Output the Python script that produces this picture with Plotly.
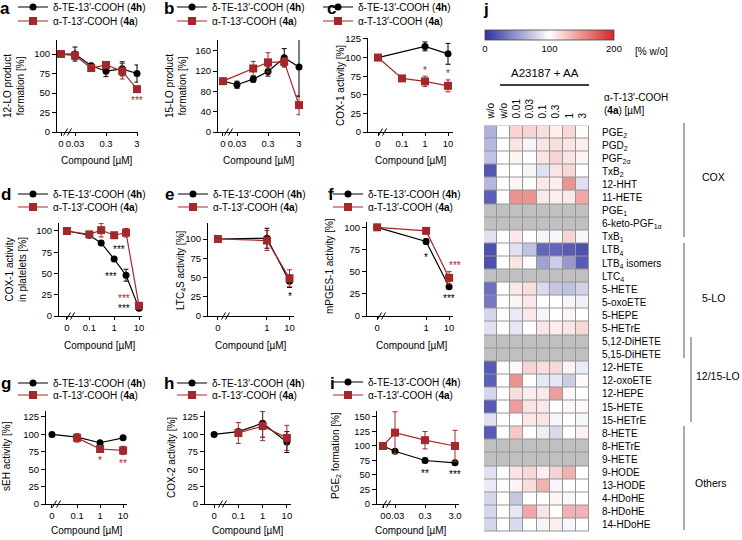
import math
import plotly.graph_objects as go

W, H = 742, 540
FONT = "Liberation Sans, Arial, sans-serif"
BLACK = "#000000"
RED = "#A3282B"

NAME_4H = "δ-TE-13′-COOH (<b>4h</b>)"
NAME_4A = "α-T-13′-COOH (<b>4a</b>)"

# ---------------- data ----------------
# a: 12-LO product formation
a_conc_4h = [0, 0.03, 0.1, 0.3, 1, 3]
a_val_4h = [100, 100, 85, 78, 81, 75]
a_err_4h = [3, 9, 3, 7, 9, 11]
a_conc_4a = [0, 0.03, 0.1, 0.3, 1, 3]
a_val_4a = [100, 98, 82, 86, 78, 55]
a_err_4a = [3, 5, 3, 3, 10, 2]

# b: 15-LO product formation
b_conc_4h = [0, 0.03, 0.1, 0.3, 1, 3]
b_val_4h = [100, 93, 104, 119, 146, 128]
b_err_4h = [3, 7, 6, 9, 18, 58]
b_conc_4a = [0, 0.1, 0.3, 1, 3]
b_val_4a = [100, 125, 137, 138, 53]
b_err_4a = [4, 14, 19, 8, 19]

# c: COX-1 activity
c_conc_4h = [0, 1, 10]
c_val_4h = [100, 115, 105]
c_err_4h = [3, 6, 14]
c_conc_4a = [0, 0.1, 1, 10]
c_val_4a = [100, 72, 68, 62]
c_err_4a = [3, 3, 7, 8]

# d: COX-1 activity in platelets
d_conc_4h = [0, 0.1, 0.3, 1, 3, 10]
d_val_4h = [100, 95, 86, 67, 48, 9]
d_err_4h = [2, 2, 2, 2, 7, 2]
d_conc_4a = [0, 0.1, 0.3, 1, 3, 10]
d_val_4a = [100, 96, 101, 95, 98, 12]
d_err_4a = [2, 2, 8, 2, 5, 3]

# e: LTC4S activity
e_conc_4h = [0, 1, 10]
e_val_4h = [100, 101, 45]
e_err_4h = [2, 13, 8]
e_conc_4a = [0, 1, 10]
e_val_4a = [100, 98, 49]
e_err_4a = [2, 13, 11]

# f: mPGES-1 activity
f_conc_4h = [0, 1, 10]
f_val_4h = [100, 84, 33]
f_err_4h = [2, 3, 2]
f_conc_4a = [0, 1, 10]
f_val_4a = [100, 96, 43]
f_err_4a = [2, 3, 7]

# g: sEH activity
g_conc_4h = [0, 0.1, 1, 10]
g_val_4h = [100, 96, 88, 95]
g_err_4h = [2, 2, 2, 2]
g_conc_4a = [0.1, 1, 10]
g_val_4a = [95, 79, 77]
g_err_4a = [6, 3, 6]

# h: COX-2 activity
h_conc_4h = [0, 0.1, 1, 10]
h_val_4h = [100, 104, 116, 89]
h_err_4h = [2, 3, 20, 15]
h_conc_4a = [0.1, 1, 10]
h_val_4a = [102, 112, 95]
h_err_4a = [15, 21, 18]

# i: PGE2 formation
i_conc_4h = [0, 0.03, 0.3, 3]
i_val_4h = [100, 91, 75, 71]
i_err_4h = [2, 2, 4, 2]
i_conc_4a = [0, 0.03, 0.3, 3]
i_val_4a = [100, 123, 110, 100]
i_err_4a = [3, 36, 15, 27]

# j: heatmap [% w/o]; columns = w/o (unstimulated), then A23187 + AA: w/o, 0.01 ... 3 µM
heat_columns = ["w/o", "w/o", "0.01", "0.03", "0.1", "0.3", "1", "3"]
heat_rows = ["PGE<sub>2</sub>", "PGD<sub>2</sub>", "PGF<sub>2α</sub>", "TxB<sub>2</sub>", "12-HHT",
             "11-HETE", "PGE<sub>1</sub>", "6-keto-PGF<sub>1α</sub>", "TxB<sub>1</sub>",
             "LTB<sub>4</sub>", "LTB<sub>4</sub> isomers", "LTC<sub>4</sub>", "5-HETE", "5-oxoETE",
             "5-HEPE", "5-HETrE", "5,12-DiHETE", "5,15-DiHETE", "12-HETE", "12-oxoETE", "12-HEPE",
             "15-HETE", "15-HETrE", "8-HETE", "8-HETrE", "9-HETE", "9-HODE", "13-HODE",
             "4-HDoHE", "8-HDoHE", "14-HDoHE"]
heat_values = [
    [62, 100, 120, 120, 115, 108, 118, 102],
    [65, 100, 112, 95, 112, 115, 112, 108],
    [70, 100, 105, 100, 112, 120, 112, 105],
    [18, 100, 100, 95, 85, 112, 118, 100],
    [65, 100, 105, 100, 110, 108, 150, 85],
    [22, 100, 150, 150, 110, 108, 110, 140],
    None,
    None,
    [85, 100, 110, 100, 95, 95, 120, 95],
    [15, 100, 85, 70, 25, 25, 20, 15],
    [15, 100, 112, 98, 55, 75, 50, 20],
    None,
    [30, 100, 110, 115, 82, 72, 70, 78],
    [35, 100, 105, 110, 100, 100, 95, 93],
    [80, 100, 90, 110, 95, 100, 105, 100],
    [85, 100, 88, 100, 112, 108, 112, 118],
    None,
    None,
    [20, 100, 103, 120, 115, 118, 105, 90],
    [22, 100, 150, 100, 88, 88, 75, 103],
    [80, 100, 115, 108, 110, 145, 103, 100],
    [20, 100, 145, 112, 110, 100, 103, 103],
    [85, 100, 100, 110, 112, 95, 100, 95],
    [20, 100, 125, 100, 92, 82, 100, 106],
    None,
    None,
    [85, 100, 112, 118, 108, 120, 135, 100],
    [90, 100, 105, 115, 135, 96, 100, 100],
    [80, 100, 72, 100, 100, 105, 97, 100],
    [80, 100, 88, 140, 112, 100, 135, 135],
    [80, 100, 82, 100, 95, 108, 96, 100],
]
heat_groups = ["COX", "5-LO", "12/15-LO", "Others"]

# ---------------- layout geometry (pixels) ----------------
def px(x):
    return x / W


def py(y):
    return 1 - y / H


panels = [
    dict(letter="a", data=(a_conc_4h, a_val_4h, a_err_4h, a_conc_4a, a_val_4a, a_err_4a),
         dom=(57, 138, 40, 132), xr=(-2.104, 0.509), zero=-1.975, ymax=118,
         yt=[0, 25, 50, 75, 100], xt=[0, 0.03, 0.3, 3], xtt=["0", "0.03", "0.3", "3"],
         ytitle="12-LO product<br>formation [%]", ytpos=(14, 86), xtpos=(97, 160),
         leg=(53, 7, 21), lpos=(5, 8), brk=69),
    dict(letter="b", data=(b_conc_4h, b_val_4h, b_err_4h, b_conc_4a, b_val_4a, b_err_4a),
         dom=(218, 300, 40, 132), xr=(-2.136, 0.509), zero=-1.975, ymax=181,
         yt=[0, 40, 80, 120, 160], xt=[0, 0.03, 0.3, 3], xtt=["0", "0.03", "0.3", "3"],
         ytitle="15-LO product<br>formation [%]", ytpos=(176, 86), xtpos=(259, 160),
         leg=(212, 7, 21), lpos=(169, 8), brk=230),
    dict(letter="c", data=(c_conc_4h, c_val_4h, c_err_4h, c_conc_4a, c_val_4a, c_err_4a),
         dom=(368, 453, 38, 132), xr=(-2.478, 1.217), zero=-2.043, ymax=126.3,
         yt=[0, 25, 50, 75, 100, 125], xt=[0, 0.1, 1, 10], xtt=["0", "0.1", "1", "10"],
         ytitle="COX-1 activity [%]", ytpos=(341, 86), xtpos=(411, 160),
         leg=(358, 7, 21), lpos=(331, 8), brk=384),
    dict(letter="d", data=(d_conc_4h, d_val_4h, d_err_4h, d_conc_4a, d_val_4a, d_err_4a),
         dom=(59, 142, 223, 316), xr=(-2.22, 1.12), zero=-1.9, ymax=109.4,
         yt=[0, 25, 50, 75, 100], xt=[0, 0.1, 1, 10], xtt=["0", "0.1", "1", "10"],
         ytitle="COX-1 activity<br>in platelets [%]", ytpos=(16, 270), xtpos=(100, 345),
         leg=(53, 194, 207), lpos=(6, 194), brk=72),
    dict(letter="e", data=(e_conc_4h, e_val_4h, e_err_4h, e_conc_4a, e_val_4a, e_err_4a),
         dom=(208, 294, 223, 316), xr=(-2.62, 1.2), zero=-2.18, ymax=120.8,
         yt=[0, 25, 50, 75, 100], xt=[0, 1, 10], xtt=["0", "1", "10"],
         ytitle="LTC<sub>4</sub>S activity [%]", ytpos=(181, 270), xtpos=(251, 345),
         leg=(213, 194, 207), lpos=(169, 194), brk=227),
    dict(letter="f", data=(f_conc_4h, f_val_4h, f_err_4h, f_conc_4a, f_val_4a, f_err_4a),
         dom=(367, 453, 222, 316), xr=(-2.57, 1.17), zero=-2.13, ymax=106,
         yt=[0, 25, 50, 75, 100], xt=[0, 1, 10], xtt=["0", "1", "10"],
         ytitle="mPGES-1 activity [%]", ytpos=(329, 266), xtpos=(412, 345),
         leg=(368, 194, 207), lpos=(331, 194), brk=383),
    dict(letter="g", data=(g_conc_4h, g_val_4h, g_err_4h, g_conc_4a, g_val_4a, g_err_4a),
         dom=(46, 127, 411, 504), xr=(-2.35, 1.17), zero=-2.09, ymax=133.6,
         yt=[0, 25, 50, 75, 100, 125], xt=[0, 0.1, 1, 10], xtt=["0", "0.1", "1", "10"],
         ytitle="sEH activity [%]", ytpos=(6, 456), xtpos=(87, 530),
         leg=(53, 383, 395), lpos=(6, 383), brk=58),
    dict(letter="h", data=(h_conc_4h, h_val_4h, h_err_4h, h_conc_4a, h_val_4a, h_err_4a),
         dom=(205, 291, 411, 504), xr=(-2.375, 1.17), zero=-2.0, ymax=133.6,
         yt=[0, 25, 50, 75, 100, 125], xt=[0, 0.1, 1, 10], xtt=["0", "0.1", "1", "10"],
         ytitle="COX-2 activity [%]", ytpos=(171, 458), xtpos=(248, 530),
         leg=(212, 383, 395), lpos=(169, 383), brk=224),
    dict(letter="i", data=(i_conc_4h, i_val_4h, i_err_4h, i_conc_4a, i_val_4a, i_err_4a),
         dom=(377, 459, 411, 504), xr=(-2.123, 0.61), zero=-1.923, ymax=160.3,
         yt=[0, 25, 50, 75, 100, 125, 150], xt=[0, 0.03, 0.3, 3], xtt=["0", "0.03", "0.3", "3.0"],
         ytitle="PGE<sub>2</sub> formation [%]", ytpos=(336, 456), xtpos=(411, 530),
         leg=(368, 382, 395), lpos=(332, 383), brk=388),
]

# significance marks: (panel index, concentration, y value, text, colour, x shift px)
stars = [
    (0, 3, 40, "***", RED, 0),
    (2, 1, 83, "*", RED, 0),
    (2, 10, 79, "*", RED, 0),
    (3, 1, 78, "***", BLACK, 5),
    (3, 3, 47, "***", BLACK, -15),
    (3, 10, 21, "***", RED, -15),
    (3, 10, 9, "***", BLACK, -15),
    (4, 10, 25, "*", BLACK, 0),
    (5, 1, 66, "*", BLACK, 0),
    (5, 10, 57, "***", RED, 6),
    (5, 10, 20, "***", BLACK, 0),
    (6, 1, 63, "*", RED, 0),
    (6, 10, 58, "**", RED, 0),
    (8, 0.3, 53, "**", BLACK, 0),
    (8, 3, 50, "***", BLACK, 0),
]


def pos(c, zero):
    return zero if c == 0 else math.log10(c)


def note(text, x, y, size=10, xanchor="center", **kw):
    d = dict(text=text, x=px(x), y=py(y), xref="paper", yref="paper", showarrow=False,
             xanchor=xanchor, yanchor="middle", font=dict(size=size, family=FONT, color=BLACK))
    d.update(kw)
    return d


fig = go.Figure()
annotations = []
shapes = []
layout = dict(
    width=W, height=H,
    margin=dict(l=0, r=0, t=0, b=0, autoexpand=False),
    paper_bgcolor="white", plot_bgcolor="white",
    font=dict(family=FONT, size=10, color=BLACK),
    template="none",
)

for k, p in enumerate(panels):
    n = k + 1
    xa = "x" if n == 1 else f"x{n}"
    ya = "y" if n == 1 else f"y{n}"
    xkey = "xaxis" if n == 1 else f"xaxis{n}"
    ykey = "yaxis" if n == 1 else f"yaxis{n}"
    c4h, v4h, e4h, c4a, v4a, e4a = p["data"]
    lg1 = "legend" if n == 1 else f"legend{2 * n - 1}"
    lg2 = f"legend{2 * n}"
    fig.add_trace(go.Scatter(
        x=[pos(c, p["zero"]) for c in c4h], y=v4h, name=NAME_4H, mode="lines+markers",
        line=dict(color=BLACK, width=1.2), marker=dict(symbol="circle", size=7, color=BLACK),
        error_y=dict(type="data", array=e4h, color=BLACK, thickness=1, width=2.5),
        xaxis=xa, yaxis=ya, legend=lg1, showlegend=True, cliponaxis=False))
    fig.add_trace(go.Scatter(
        x=[pos(c, p["zero"]) for c in c4a], y=v4a, name=NAME_4A, mode="lines+markers",
        line=dict(color=RED, width=1.2), marker=dict(symbol="square", size=8, color=RED),
        error_y=dict(type="data", array=e4a, color=RED, thickness=1, width=2.5),
        xaxis=xa, yaxis=ya, legend=lg2, showlegend=True, cliponaxis=False))

    x0, x1, yt0, yb = p["dom"]
    layout[xkey] = dict(
        domain=[px(x0), px(x1)], range=list(p["xr"]), anchor=ya,
        tickvals=[pos(c, p["zero"]) for c in p["xt"]], ticktext=p["xtt"], tickangle=0,
        ticks="outside", ticklen=3, tickwidth=1, tickcolor=BLACK,
        showline=True, linecolor=BLACK, linewidth=1, showgrid=False, zeroline=False,
        tickfont=dict(size=9.5), fixedrange=True)
    layout[ykey] = dict(
        domain=[py(yb), py(yt0)], range=[0, p["ymax"]], anchor=xa,
        tickvals=p["yt"], ticks="outside", ticklen=4, tickwidth=1, tickcolor=BLACK,
        showline=True, linecolor=BLACK, linewidth=1, showgrid=False, zeroline=False,
        tickfont=dict(size=9.5), fixedrange=True)

    tx, r1, r2 = p["leg"]
    for lg, ry in ((lg1, r1), (lg2, r2)):
        layout[lg] = dict(x=px(tx - 40), y=py(ry), xanchor="left", yanchor="middle",
                          bgcolor="rgba(0,0,0,0)", borderwidth=0,
                          font=dict(size=10, family=FONT, color=BLACK))

    annotations.append(note(f"<b>{p['letter']}</b>", p["lpos"][0], p["lpos"][1], size=17))
    annotations.append(note("Compound [µM]", p["xtpos"][0], p["xtpos"][1]))
    annotations.append(note(p["ytitle"], p["ytpos"][0], p["ytpos"][1], textangle=-90))
    # axis break marks
    bx = p["brk"]
    for dx in (-4, 0):
        shapes.append(dict(type="line", xref="paper", yref="paper",
                           x0=px(bx + dx - 1.5), y0=py(yb + 3.5), x1=px(bx + dx + 2.5), y1=py(yb - 3.5),
                           line=dict(color=BLACK, width=1)))

for (k, c, yv, txt, col, dx) in stars:
    n = k + 1
    p = panels[k]
    annotations.append(dict(text=txt, x=pos(c, p["zero"]), y=yv,
                            xref="x" if n == 1 else f"x{n}", yref="y" if n == 1 else f"y{n}",
                            xanchor="center", yanchor="middle",
                            xshift=dx, showarrow=False, font=dict(size=10, color=col, family=FONT)))

# ---------------- heatmap j ----------------
HX0, HX1, HY0, HY1 = 484, 589, 125.5, 531.5
nrow = len(heat_rows)
ncol = len(heat_columns)
z_main = [row if row is not None else [None] * ncol for row in heat_values]
z_nd = [[1] * ncol if row is None else [None] * ncol for row in heat_values]
colorscale = [[0.0, "rgb(45,50,160)"], [0.5, "rgb(255,255,255)"], [1.0, "rgb(214,38,34)"]]

fig.add_trace(go.Heatmap(
    z=z_main, x=list(range(ncol)), y=list(range(nrow)), xaxis="x10", yaxis="y10",
    zmin=0, zmax=200, colorscale=colorscale, xgap=1, ygap=1, hoverongaps=False,
    colorbar=dict(orientation="h", x=px(549.5), xanchor="center", y=py(30), yanchor="top",
                  len=129, lenmode="pixels", thickness=10, thicknessmode="pixels",
                  xpad=0, ypad=0, tickvals=[0, 100, 200], ticks="", tickfont=dict(size=9.5),
                  outlinewidth=0.8, outlinecolor="#444")))
fig.add_trace(go.Heatmap(
    z=z_nd, x=list(range(ncol)), y=list(range(nrow)), xaxis="x10", yaxis="y10",
    zmin=0, zmax=1, colorscale=[[0, "rgb(192,192,192)"], [1, "rgb(192,192,192)"]],
    xgap=1, ygap=1, showscale=False, hoverongaps=False))

layout["xaxis10"] = dict(domain=[px(HX0), px(HX1)], range=[-0.5, ncol - 0.5], anchor="y10", side="top",
                         tickvals=list(range(ncol)), ticktext=heat_columns, tickangle=-90,
                         ticks="outside", ticklen=4, tickcolor="rgba(0,0,0,0)",
                         showgrid=False, zeroline=False, showline=False,
                         tickfont=dict(size=10), fixedrange=True)
layout["yaxis10"] = dict(domain=[py(HY1), py(HY0)], range=[nrow - 0.5, -0.5], anchor="x10", side="right",
                         tickvals=list(range(nrow)), ticktext=heat_rows,
                         ticks="outside", ticklen=10, tickcolor="rgba(0,0,0,0)",
                         showgrid=False, zeroline=False, showline=False,
                         tickfont=dict(size=10), fixedrange=True)

shapes.append(dict(type="rect", xref="paper", yref="paper", x0=px(HX0), x1=px(HX1),
                   y0=py(HY1), y1=py(HY0), fillcolor="rgb(150,150,150)",
                   line=dict(width=0), layer="below"))
# A23187 + AA bar
shapes.append(dict(type="line", xref="paper", yref="paper", x0=px(500), x1=px(589),
                   y0=py(85), y1=py(85), line=dict(color=BLACK, width=1.6)))
# group brackets
for (gx, gy0, gy1) in ((684, 123, 237), (684, 243, 358), (691, 337, 422), (684, 426, 530)):
    shapes.append(dict(type="line", xref="paper", yref="paper", x0=px(gx), x1=px(gx),
                       y0=py(gy0), y1=py(gy1), line=dict(color="#555", width=1)))

for txt, gx, gy in zip(heat_groups, (700, 700, 694, 693), (177, 298, 376, 483)):
    annotations.append(note(txt, gx, gy, size=10.5, xanchor="left"))

annotations += [
    note("<b>j</b>", 486, 10, size=17),
    note("[% w/o]", 633, 51, xanchor="left"),
    note("A23187 + AA", 545, 73, size=11.5),
    note("α-T-13′-COOH", 602, 98, xanchor="left"),
    note("(<b>4a</b>) [µM]", 602, 110, xanchor="left"),
]

layout["annotations"] = annotations
layout["shapes"] = shapes
fig.update_layout(**layout)
fig.write_html("out.html", config={"displayModeBar": False, "staticPlot": False},
               post_script="document.body.style.margin='0px';")
